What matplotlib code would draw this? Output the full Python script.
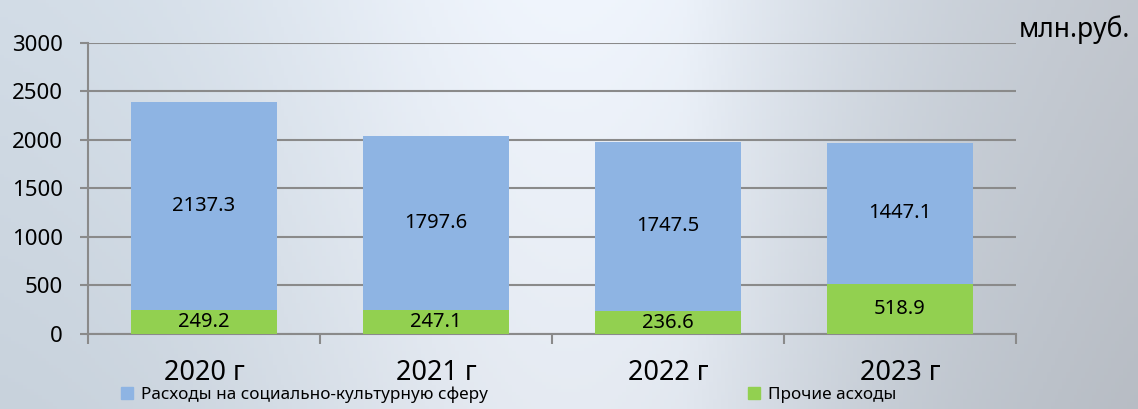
import numpy as np
import matplotlib
matplotlib.use("Agg")
import matplotlib.pyplot as plt
from matplotlib.patches import Patch

plt.rcParams['font.family'] = ['Noto Sans', 'DejaVu Sans']

years = ['2020 г', '2021 г', '2022 г', '2023 г']
other = [249.2, 247.1, 236.6, 518.9]
social = [2137.3, 1797.6, 1747.5, 1447.1]
yticks = [0, 500, 1000, 1500, 2000, 2500, 3000]

blue = '#8eb4e3'
green = '#92d050'
grid_c = '#8a8a8a'

fig = plt.figure(figsize=(11.38, 4.09), dpi=100)

# soft photo-like background (gradient)
bg = fig.add_axes([0, 0, 1, 1], zorder=0)
xs = np.linspace(0, 1, 300)
ys = np.linspace(0, 1, 120)
X, Y = np.meshgrid(xs, ys)
left_c = np.array([0.78, 0.82, 0.86])
mid_c = np.array([0.90, 0.92, 0.95])
right_c = np.array([0.72, 0.74, 0.77])
w_mid = np.exp(-((X - 0.5) / 0.28) ** 2)
w_right = np.clip((X - 0.6) / 0.4, 0, 1)
img = (left_c[None, None, :] * (1 - w_mid[..., None]) + mid_c[None, None, :] * w_mid[..., None])
img = img * (1 - w_right[..., None]) + right_c[None, None, :] * w_right[..., None]
img = img + 0.04 * Y[..., None]
bg.imshow(np.clip(img, 0, 1), aspect='auto', extent=[0, 1, 0, 1], origin='lower')
bg.axis('off')

ax = fig.add_axes([0.0773, 0.1834, 0.8155, 0.7115], zorder=1)
ax.patch.set_alpha(0)

x = np.arange(len(years))
w = 0.63
b1 = ax.bar(x, other, w, color=green, zorder=3)
b2 = ax.bar(x, social, w, bottom=other, color=blue, zorder=3)

for i in range(len(years)):
    ax.text(x[i], other[i] / 2, f'{other[i]:.1f}', ha='center', va='center', fontsize=14.5, zorder=4)
    ax.text(x[i], other[i] + social[i] / 2, f'{social[i]:.1f}', ha='center', va='center', fontsize=14.5, zorder=4)

ax.set_xlim(-0.5, len(years) - 0.5)
ax.set_ylim(0, 3000)
ax.set_yticks(yticks)
ax.set_yticklabels([str(v) for v in yticks], fontsize=16)
ax.yaxis.grid(True, color=grid_c, linewidth=1.5, zorder=1)
ax.set_axisbelow(True)

ax.set_xticks(x)
ax.set_xticklabels(years, fontsize=19.5)
ax.set_xticks(np.arange(len(years) + 1) - 0.5, minor=True)
ax.tick_params(axis='x', which='major', length=0, pad=18)
ax.tick_params(axis='x', which='minor', length=7, width=1.5, color=grid_c)
ax.tick_params(axis='y', length=6, width=1.5, color=grid_c, pad=12)

for s in ['top', 'right']:
    ax.spines[s].set_visible(False)
for s in ['left', 'bottom']:
    ax.spines[s].set_color(grid_c)
    ax.spines[s].set_linewidth(1.5)

fig.text(0.895, 0.927, 'млн.руб.', fontsize=19, ha='left', va='center')

handles = [Patch(color=blue), Patch(color=green)]
labels = ['Расходы на социально-культурную сферу', 'Прочие асходы']
fig.legend(handles, labels, loc='center left', bbox_to_anchor=(0.106, 0.036), ncol=2,
           frameon=False, fontsize=12.3, handlelength=0.7, handleheight=0.7,
           handletextpad=0.5, columnspacing=15.2, borderpad=0, borderaxespad=0)

fig.savefig('out.png', dpi=100)
